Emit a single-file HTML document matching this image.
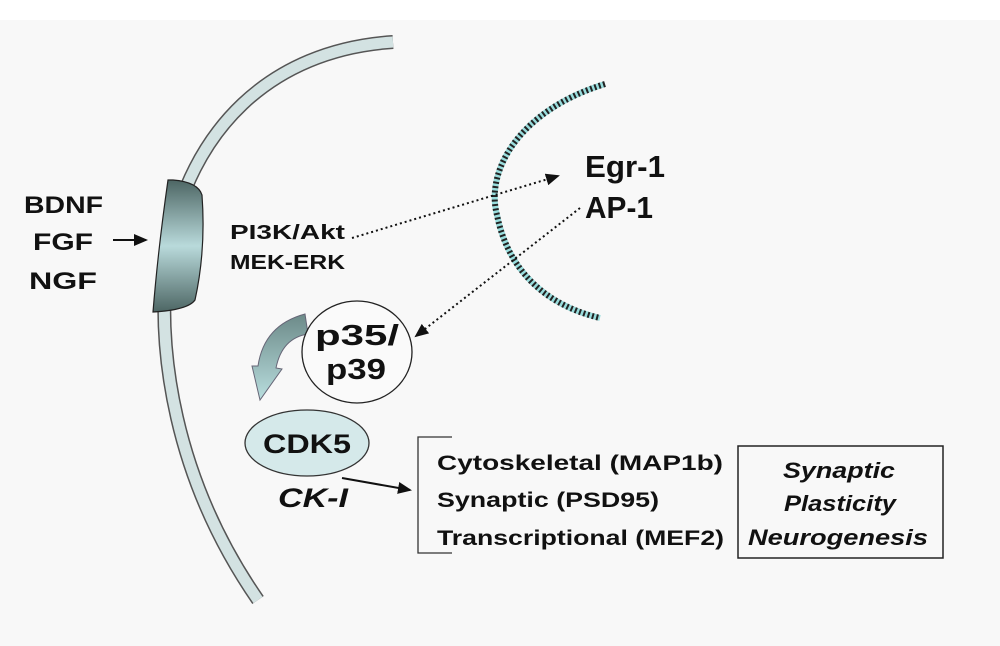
<!DOCTYPE html>
<html><head><style>
body{margin:0;width:1000px;height:646px;background:#fff;overflow:hidden}
svg{display:block}
text{font-family:"Liberation Sans",sans-serif;font-weight:bold;fill:#111}
</style></head><body>
<svg width="1000" height="646" viewBox="0 0 1000 646">
<defs>
<linearGradient id="rg" x1="0" y1="0" x2="0" y2="1">
<stop offset="0" stop-color="#4d6664"/><stop offset="0.5" stop-color="#b9dadb"/><stop offset="1" stop-color="#4d6664"/>
</linearGradient>
<linearGradient id="ag" x1="0" y1="0" x2="0" y2="1">
<stop offset="0" stop-color="#6c8a88"/><stop offset="1" stop-color="#b9dede"/>
</linearGradient>
<marker id="ah2" markerWidth="14" markerHeight="12" refX="12" refY="6" orient="auto" markerUnits="userSpaceOnUse"><path d="M0,0 L14,6 L0,12 z" fill="#111"/></marker>
</defs>
<rect x="0" y="20" width="1000" height="626" fill="#f8f8f8"/>
<path d="M393,42 C 270,50 190,130 168,250 C 155,350 175,480 258,600" fill="none" stroke="#555" stroke-width="14"/>
<path d="M393,42 C 270,50 190,130 168,250 C 155,350 175,480 258,600" fill="none" stroke="#d3e2e2" stroke-width="11"/>
<path d="M173,180 Q198,182 202,195 Q206,250 195,300 Q188,310 153,312 Q158,250 168,180 z" fill="url(#rg)" stroke="#222" stroke-width="1.2"/>
<path d="M605,84 C 520,110 485,170 497,215 C 508,270 545,305 600,318" fill="none" stroke="#9dd" stroke-width="6"/>
<path d="M605,84 C 520,110 485,170 497,215 C 508,270 545,305 600,318" fill="none" stroke="#222" stroke-width="6" stroke-dasharray="2 2.5"/>
<text x="24" y="213" font-size="24" textLength="79" lengthAdjust="spacingAndGlyphs">BDNF</text>
<text x="33" y="250" font-size="24" textLength="60" lengthAdjust="spacingAndGlyphs">FGF</text>
<text x="29" y="289" font-size="24" textLength="68" lengthAdjust="spacingAndGlyphs">NGF</text>
<line x1="113" y1="240" x2="146" y2="240" stroke="#111" stroke-width="2" marker-end="url(#ah2)"/>
<text x="230" y="239" font-size="20" textLength="115" lengthAdjust="spacingAndGlyphs">PI3K/Akt</text>
<text x="230" y="269" font-size="20" textLength="115" lengthAdjust="spacingAndGlyphs">MEK-ERK</text>
<line x1="352" y1="238" x2="558" y2="176" stroke="#111" stroke-width="2" stroke-dasharray="2 3" marker-end="url(#ah2)"/>
<text x="585" y="177" font-size="31" textLength="80" lengthAdjust="spacingAndGlyphs">Egr-1</text>
<text x="585" y="218" font-size="31" textLength="68" lengthAdjust="spacingAndGlyphs">AP-1</text>
<line x1="580" y1="208" x2="416" y2="336" stroke="#111" stroke-width="2" stroke-dasharray="2 3" marker-end="url(#ah2)"/>
<path d="M305,314 L308,334 Q282,338 276,368 L282,369 L260,400 L252,366 L258,366 Q264,325 305,314 z" fill="url(#ag)" stroke="#667" stroke-width="1"/>
<ellipse cx="357" cy="352" rx="55" ry="51" fill="#fafafa" stroke="#222" stroke-width="1.3"/>
<text x="357" y="345" font-size="29" text-anchor="middle" textLength="84" lengthAdjust="spacingAndGlyphs">p35/</text>
<text x="356" y="379" font-size="29" text-anchor="middle" textLength="60" lengthAdjust="spacingAndGlyphs">p39</text>
<ellipse cx="307" cy="443" rx="62" ry="33" fill="#d5e9ea" stroke="#333" stroke-width="1.3"/>
<text x="307" y="453" font-size="27" text-anchor="middle" textLength="88" lengthAdjust="spacingAndGlyphs">CDK5</text>
<text x="278" y="507" font-size="27" font-style="italic" textLength="70" lengthAdjust="spacingAndGlyphs">CK-I</text>
<line x1="342" y1="478" x2="410" y2="490" stroke="#111" stroke-width="2" marker-end="url(#ah2)"/>
<path d="M452,437 L418,437 L418,553 L452,553" fill="none" stroke="#333" stroke-width="1.3"/>
<text x="437" y="470" font-size="21" textLength="286" lengthAdjust="spacingAndGlyphs">Cytoskeletal (MAP1b)</text>
<text x="437" y="507" font-size="21" textLength="222" lengthAdjust="spacingAndGlyphs">Synaptic (PSD95)</text>
<text x="437" y="545" font-size="21" textLength="287" lengthAdjust="spacingAndGlyphs">Transcriptional (MEF2)</text>
<rect x="738" y="446" width="205" height="112" fill="none" stroke="#222" stroke-width="1.5"/>
<text x="839" y="478" font-size="22" font-style="italic" text-anchor="middle" textLength="112" lengthAdjust="spacingAndGlyphs">Synaptic</text>
<text x="840" y="511" font-size="22" font-style="italic" text-anchor="middle" textLength="112" lengthAdjust="spacingAndGlyphs">Plasticity</text>
<text x="838" y="545" font-size="22" font-style="italic" text-anchor="middle" textLength="180" lengthAdjust="spacingAndGlyphs">Neurogenesis</text>
</svg>
</body></html>
